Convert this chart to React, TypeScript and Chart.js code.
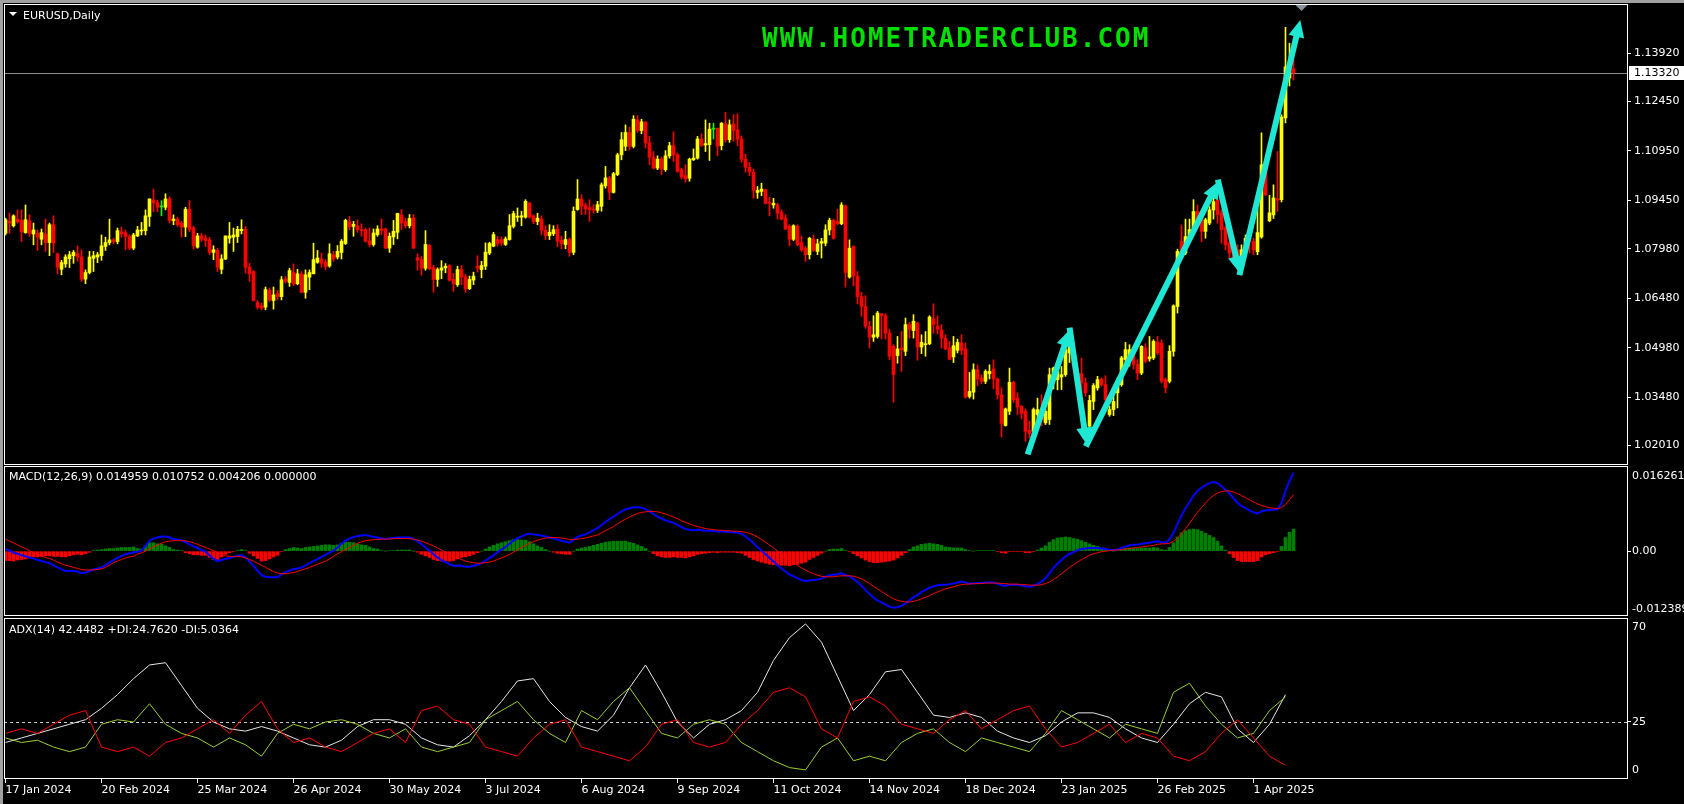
import React, { useEffect, useRef } from 'react';
import { Chart, registerables } from 'chart.js';

Chart.register(...registerables);

// ---------------- data ----------------
const dateTickLabels = ['17 Jan 2024', '20 Feb 2024', '25 Mar 2024', '26 Apr 2024', '30 May 2024', '3 Jul 2024', '6 Aug 2024', '9 Sep 2024', '11 Oct 2024', '14 Nov 2024', '18 Dec 2024', '23 Jan 2025', '26 Feb 2025', '1 Apr 2025'];
const dateTickBars = [0, 24, 48, 72, 96, 120, 144, 168, 192, 216, 240, 264, 288, 312];
const priceTicks = [1.0201, 1.0348, 1.0498, 1.0648, 1.0798, 1.0945, 1.1095, 1.1245, 1.1392];
const macdSideLabels = [{ at: 'top', value: 0.016261, text: '0.016261' }, { at: 'value', value: 0, text: '0.00' }, { at: 'bottom', value: -0.012389, text: '-0.012389' }];
const adxSideLabels = [{ at: 'top', value: 70.6, text: '70' }, { at: 'value', value: 25, text: '25' }, { at: 'bottom', value: 0, text: '0' }];
const adxLevel = 25;
const shiftBar = 324;

// [open, high, low, close]
const candles = [
[1.0845,1.0891,1.0840,1.0886],[1.0881,1.0906,1.0845,1.0876],[1.0868,1.0901,1.0864,1.0898],[1.0888,1.0916,1.0876,1.0880],[1.0884,1.0916,1.0820,1.0850],
[1.0847,1.0931,1.0845,1.0886],[1.0883,1.0901,1.0835,1.0845],[1.0843,1.0876,1.0810,1.0855],[1.0845,1.0855,1.0793,1.0833],[1.0827,1.0858,1.0810,1.0847],
[1.0843,1.0888,1.0790,1.0817],[1.0817,1.0876,1.0777,1.0871],[1.0871,1.0898,1.0787,1.0815],[1.0783,1.0785,1.0722,1.0742],[1.0736,1.0763,1.0719,1.0756],
[1.0752,1.0780,1.0742,1.0773],[1.0768,1.0790,1.0741,1.0780],[1.0777,1.0793,1.0754,1.0787],[1.0783,1.0807,1.0760,1.0773],[1.0773,1.0795,1.0699,1.0706],
[1.0706,1.0734,1.0692,1.0726],[1.0726,1.0790,1.0722,1.0773],[1.0769,1.0790,1.0729,1.0777],[1.0773,1.0787,1.0756,1.0780],[1.0777,1.0840,1.0763,1.0807],
[1.0805,1.0833,1.0793,1.0817],[1.0817,1.0888,1.0810,1.0825],[1.0825,1.0830,1.0813,1.0820],[1.0820,1.0861,1.0813,1.0853],[1.0850,1.0864,1.0833,1.0843],
[1.0847,1.0855,1.0795,1.0835],[1.0835,1.0840,1.0795,1.0800],[1.0800,1.0845,1.0795,1.0840],[1.0837,1.0866,1.0835,1.0855],[1.0852,1.0878,1.0840,1.0855],
[1.0853,1.0916,1.0840,1.0898],[1.0896,1.0950,1.0866,1.0949],[1.0946,1.0979,1.0911,1.0938],[1.0938,1.0946,1.0911,1.0924],[1.0925,1.0944,1.0898,1.0925],
[1.0924,1.0965,1.0916,1.0949],[1.0949,1.0956,1.0876,1.0884],[1.0884,1.0901,1.0871,1.0888],[1.0888,1.0894,1.0866,1.0871],[1.0876,1.0881,1.0833,1.0864],
[1.0864,1.0924,1.0835,1.0918],[1.0918,1.0944,1.0850,1.0857],[1.0861,1.0866,1.0797,1.0807],[1.0803,1.0845,1.0800,1.0837],[1.0837,1.0845,1.0820,1.0827],
[1.0830,1.0840,1.0805,1.0823],[1.0825,1.0833,1.0780,1.0787],[1.0787,1.0807,1.0765,1.0795],[1.0793,1.0800,1.0729,1.0742],[1.0736,1.0780,1.0722,1.0767],
[1.0767,1.0837,1.0765,1.0837],[1.0830,1.0878,1.0815,1.0837],[1.0833,1.0861,1.0790,1.0840],[1.0835,1.0866,1.0817,1.0857],[1.0853,1.0886,1.0843,1.0857],
[1.0857,1.0866,1.0724,1.0742],[1.0742,1.0754,1.0699,1.0722],[1.0729,1.0732,1.0639,1.0641],[1.0635,1.0641,1.0615,1.0621],[1.0625,1.0633,1.0613,1.0618],
[1.0621,1.0682,1.0613,1.0674],[1.0672,1.0679,1.0638,1.0643],[1.0641,1.0682,1.0615,1.0658],[1.0662,1.0672,1.0643,1.0653],[1.0653,1.0714,1.0643,1.0704],
[1.0706,1.0714,1.0694,1.0699],[1.0696,1.0739,1.0684,1.0732],[1.0726,1.0752,1.0686,1.0692],[1.0692,1.0736,1.0689,1.0722],[1.0722,1.0729,1.0664,1.0666],
[1.0666,1.0734,1.0648,1.0719],[1.0712,1.0734,1.0674,1.0726],[1.0722,1.0815,1.0722,1.0765],[1.0757,1.0793,1.0754,1.0770],[1.0767,1.0785,1.0742,1.0754],
[1.0757,1.0765,1.0734,1.0744],[1.0746,1.0813,1.0742,1.0783],[1.0780,1.0790,1.0760,1.0767],[1.0773,1.0808,1.0767,1.0790],[1.0787,1.0826,1.0767,1.0821],
[1.0814,1.0888,1.0811,1.0884],[1.0880,1.0896,1.0856,1.0864],[1.0866,1.0881,1.0836,1.0872],[1.0868,1.0886,1.0848,1.0856],[1.0856,1.0874,1.0836,1.0853],
[1.0856,1.0861,1.0818,1.0821],[1.0822,1.0861,1.0804,1.0811],[1.0811,1.0858,1.0806,1.0846],[1.0841,1.0868,1.0836,1.0858],[1.0858,1.0889,1.0841,1.0854],
[1.0858,1.0860,1.0799,1.0800],[1.0800,1.0846,1.0787,1.0836],[1.0834,1.0884,1.0811,1.0851],[1.0848,1.0906,1.0828,1.0905],[1.0901,1.0917,1.0856,1.0876],
[1.0880,1.0891,1.0861,1.0868],[1.0868,1.0902,1.0861,1.0890],[1.0892,1.0902,1.0799,1.0800],[1.0771,1.0783,1.0733,1.0763],[1.0765,1.0775,1.0718,1.0739],
[1.0739,1.0853,1.0733,1.0811],[1.0808,1.0811,1.0735,1.0737],[1.0741,1.0748,1.0666,1.0705],[1.0705,1.0740,1.0684,1.0735],[1.0733,1.0762,1.0707,1.0740],
[1.0740,1.0753,1.0725,1.0745],[1.0747,1.0750,1.0700,1.0703],[1.0705,1.0723,1.0669,1.0692],[1.0689,1.0745,1.0684,1.0735],[1.0735,1.0747,1.0689,1.0713],
[1.0713,1.0720,1.0666,1.0676],[1.0677,1.0715,1.0674,1.0705],[1.0703,1.0727,1.0689,1.0715],[1.0745,1.0777,1.0727,1.0739],[1.0735,1.0760,1.0710,1.0747],
[1.0745,1.0816,1.0735,1.0788],[1.0785,1.0818,1.0780,1.0814],[1.0806,1.0848,1.0804,1.0841],[1.0826,1.0836,1.0806,1.0814],[1.0826,1.0834,1.0808,1.0816],
[1.0811,1.0834,1.0808,1.0828],[1.0826,1.0902,1.0824,1.0868],[1.0866,1.0912,1.0861,1.0905],[1.0894,1.0922,1.0881,1.0896],[1.0894,1.0912,1.0868,1.0898],
[1.0894,1.0947,1.0891,1.0942],[1.0937,1.0939,1.0891,1.0894],[1.0898,1.0901,1.0874,1.0881],[1.0881,1.0906,1.0871,1.0891],[1.0888,1.0898,1.0841,1.0854],
[1.0854,1.0868,1.0826,1.0838],[1.0838,1.0871,1.0826,1.0848],[1.0844,1.0868,1.0838,1.0856],[1.0858,1.0871,1.0804,1.0821],[1.0824,1.0836,1.0798,1.0814],
[1.0811,1.0851,1.0798,1.0826],[1.0826,1.0831,1.0775,1.0787],[1.0787,1.0925,1.0780,1.0912],[1.0917,1.1008,1.0915,1.0949],[1.0949,1.0962,1.0902,1.0927],
[1.0929,1.0937,1.0902,1.0919],[1.0923,1.0947,1.0881,1.0917],[1.0917,1.0932,1.0906,1.0915],[1.0915,1.0942,1.0908,1.0932],[1.0927,1.0998,1.0912,1.0992],
[1.0989,1.1048,1.0982,1.1013],[1.1013,1.1018,1.0947,1.0969],[1.0969,1.1030,1.0967,1.1026],[1.1023,1.1088,1.1020,1.1083],[1.1083,1.1151,1.1068,1.1129],
[1.1109,1.1174,1.1096,1.1151],[1.1151,1.1167,1.1098,1.1109],[1.1109,1.1202,1.1104,1.1191],[1.1189,1.1202,1.1151,1.1157],[1.1157,1.1191,1.1147,1.1183],
[1.1183,1.1183,1.1104,1.1119],[1.1119,1.1139,1.1053,1.1076],[1.1076,1.1093,1.1040,1.1043],[1.1043,1.1080,1.1038,1.1070],[1.1070,1.1076,1.1023,1.1040],
[1.1038,1.1096,1.1033,1.1080],[1.1080,1.1121,1.1073,1.1111],[1.1111,1.1153,1.1063,1.1083],[1.1083,1.1088,1.1030,1.1033],[1.1038,1.1043,1.1010,1.1016],
[1.1020,1.1053,1.1000,1.1010],[1.1012,1.1073,1.1003,1.1070],[1.1068,1.1101,1.1066,1.1073],[1.1073,1.1139,1.1070,1.1131],[1.1131,1.1147,1.1109,1.1111],
[1.1113,1.1189,1.1093,1.1117],[1.1114,1.1179,1.1066,1.1161],[1.1161,1.1179,1.1131,1.1161],[1.1164,1.1164,1.1080,1.1109],[1.1111,1.1181,1.1098,1.1179],
[1.1177,1.1212,1.1121,1.1129],[1.1129,1.1189,1.1121,1.1174],[1.1177,1.1205,1.1124,1.1157],[1.1159,1.1208,1.1111,1.1131],[1.1131,1.1140,1.1060,1.1070],
[1.1070,1.1085,1.1030,1.1045],[1.1045,1.1060,1.1020,1.1032],[1.1030,1.1040,1.0951,1.0975],[1.0969,1.0987,1.0951,1.0975],[1.0972,1.0997,1.0959,1.0979],
[1.0977,1.0979,1.0934,1.0936],[1.0938,1.0954,1.0898,1.0936],[1.0931,1.0951,1.0921,1.0936],[1.0931,1.0936,1.0888,1.0906],[1.0908,1.0916,1.0886,1.0888],
[1.0891,1.0901,1.0856,1.0858],[1.0866,1.0871,1.0807,1.0827],[1.0827,1.0871,1.0823,1.0868],[1.0866,1.0871,1.0807,1.0810],[1.0817,1.0837,1.0790,1.0795],
[1.0800,1.0805,1.0760,1.0780],[1.0780,1.0833,1.0767,1.0830],[1.0827,1.0840,1.0790,1.0793],[1.0790,1.0827,1.0780,1.0813],[1.0815,1.0830,1.0770,1.0820],
[1.0815,1.0871,1.0807,1.0855],[1.0855,1.0891,1.0840,1.0884],[1.0884,1.0888,1.0827,1.0830],[1.0881,1.0918,1.0871,1.0874],[1.0874,1.0938,1.0871,1.0931],
[1.0928,1.0931,1.0682,1.0726],[1.0712,1.0825,1.0709,1.0800],[1.0805,1.0807,1.0686,1.0716],[1.0714,1.0729,1.0631,1.0653],[1.0653,1.0666,1.0593,1.0623],
[1.0623,1.0656,1.0557,1.0563],[1.0563,1.0578,1.0497,1.0530],[1.0530,1.0595,1.0517,1.0537],[1.0532,1.0608,1.0527,1.0603],[1.0601,1.0601,1.0524,1.0595],
[1.0595,1.0601,1.0524,1.0542],[1.0542,1.0554,1.0461,1.0472],[1.0502,1.0507,1.0332,1.0416],[1.0474,1.0532,1.0451,1.0494],[1.0497,1.0547,1.0426,1.0492],
[1.0487,1.0588,1.0474,1.0568],[1.0568,1.0575,1.0527,1.0554],[1.0550,1.0598,1.0527,1.0578],[1.0573,1.0575,1.0460,1.0500],[1.0500,1.0537,1.0480,1.0514],
[1.0507,1.0547,1.0472,1.0510],[1.0510,1.0595,1.0507,1.0591],[1.0585,1.0631,1.0542,1.0568],[1.0563,1.0595,1.0540,1.0554],[1.0552,1.0568,1.0497,1.0527],
[1.0527,1.0537,1.0492,1.0494],[1.0497,1.0517,1.0461,1.0463],[1.0470,1.0532,1.0453,1.0504],[1.0490,1.0524,1.0482,1.0514],[1.0512,1.0537,1.0477,1.0490],
[1.0494,1.0512,1.0345,1.0348],[1.0350,1.0423,1.0345,1.0365],[1.0363,1.0449,1.0342,1.0431],[1.0431,1.0446,1.0383,1.0403],[1.0406,1.0416,1.0389,1.0396],
[1.0396,1.0431,1.0389,1.0426],[1.0419,1.0446,1.0403,1.0426],[1.0433,1.0461,1.0373,1.0403],[1.0403,1.0406,1.0342,1.0355],[1.0355,1.0376,1.0227,1.0268],
[1.0262,1.0315,1.0260,1.0312],[1.0305,1.0436,1.0295,1.0393],[1.0393,1.0396,1.0332,1.0340],[1.0345,1.0361,1.0295,1.0318],[1.0320,1.0322,1.0282,1.0298],
[1.0305,1.0312,1.0214,1.0244],[1.0247,1.0275,1.0224,1.0237],[1.0244,1.0315,1.0239,1.0310],[1.0295,1.0345,1.0280,1.0310],[1.0310,1.0355,1.0260,1.0278],
[1.0270,1.0312,1.0265,1.0305],[1.0280,1.0436,1.0265,1.0416],[1.0396,1.0439,1.0373,1.0436],[1.0401,1.0441,1.0370,1.0426],[1.0409,1.0441,1.0371,1.0416],
[1.0416,1.0497,1.0411,1.0492],[1.0482,1.0533,1.0453,1.0500],[1.0492,1.0497,1.0433,1.0441],[1.0393,1.0436,1.0380,1.0421],[1.0419,1.0466,1.0350,1.0391],
[1.0391,1.0406,1.0350,1.0361],[1.0260,1.0353,1.0210,1.0338],[1.0335,1.0389,1.0310,1.0383],[1.0376,1.0411,1.0369,1.0401],[1.0403,1.0406,1.0381,1.0386],
[1.0386,1.0413,1.0330,1.0340],[1.0295,1.0320,1.0290,1.0310],[1.0310,1.0361,1.0292,1.0335],[1.0361,1.0406,1.0315,1.0386],[1.0386,1.0472,1.0381,1.0467],
[1.0462,1.0514,1.0452,1.0492],[1.0472,1.0507,1.0442,1.0492],[1.0482,1.0487,1.0433,1.0447],[1.0447,1.0462,1.0401,1.0421],[1.0421,1.0504,1.0416,1.0502],
[1.0497,1.0510,1.0452,1.0457],[1.0464,1.0532,1.0457,1.0470],[1.0467,1.0522,1.0462,1.0517],[1.0514,1.0532,1.0477,1.0482],[1.0512,1.0522,1.0391,1.0396],
[1.0401,1.0406,1.0361,1.0376],[1.0396,1.0504,1.0391,1.0487],[1.0487,1.0628,1.0472,1.0625],[1.0623,1.0797,1.0603,1.0790],[1.0820,1.0870,1.0780,1.0795],
[1.0785,1.0888,1.0780,1.0835],[1.0835,1.0888,1.0830,1.0856],[1.0861,1.0947,1.0851,1.0911],[1.0911,1.0931,1.0861,1.0876],[1.0896,1.0901,1.0820,1.0851],
[1.0851,1.0891,1.0830,1.0886],[1.0876,1.0926,1.0871,1.0916],[1.0916,1.0957,1.0888,1.0941],[1.0946,1.0952,1.0876,1.0901],[1.0906,1.0916,1.0815,1.0856],
[1.0861,1.0866,1.0795,1.0810],[1.0815,1.0835,1.0765,1.0785],[1.0795,1.0805,1.0750,1.0765],[1.0795,1.0810,1.0750,1.0765],[1.0745,1.0810,1.0735,1.0795],
[1.0795,1.0840,1.0785,1.0830],[1.0830,1.0845,1.0785,1.0820],[1.0820,1.0830,1.0780,1.0795],[1.0789,1.0920,1.0780,1.0847],[1.0834,1.1150,1.0830,1.1053],
[1.1046,1.1050,1.0959,1.0962],[1.0883,1.0960,1.0880,1.0907],[1.0901,1.0992,1.0890,1.0952],[1.0950,1.1093,1.0911,1.0945],[1.0947,1.1205,1.0940,1.1198],
[1.1195,1.1470,1.1180,1.1350],[1.1316,1.1422,1.1292,1.1350],[1.1344,1.1377,1.1310,1.1332]
];

const macdMain = [
.0005,.0001,-.0003,-.0005,-.0008,-.0010,-.0012,-.0014,-.0017,-.0019,
-.0021,-.0023,-.0027,-.0031,-.0035,-.0038,-.0038,-.0038,-.0039,-.0042,
-.0041,-.0038,-.0035,-.0033,-.0031,-.0027,-.0022,-.0017,-.0013,-.0009,
-.0006,-.0004,-.0002,-.0001,.0001,.0010,.0020,.0024,.0026,.0028,
.0028,.0026,.0023,.0022,.0021,.0017,.0013,.0009,.0006,.0002,
-.0001,-.0008,-.0015,-.0019,-.0017,-.0015,-.0013,-.0011,-.0009,-.0008,
-.0012,-.0020,-.0028,-.0037,-.0046,-.0049,-.0050,-.0050,-.0050,-.0044,
-.0040,-.0037,-.0034,-.0033,-.0031,-.0027,-.0023,-.0019,-.0015,-.0011,
-.0007,-.0003,.0001,.0007,.0014,.0020,.0024,.0027,.0029,.0030,
.0031,.0029,.0027,.0026,.0024,.0023,.0024,.0025,.0026,.0026,
.0026,.0026,.0023,.0019,.0013,.0007,.0001,-.0006,-.0012,-.0017,
-.0021,-.0025,-.0028,-.0028,-.0028,-.0030,-.0030,-.0028,-.0026,-.0023,
-.0018,-.0013,-.0008,-.0002,.0003,.0008,.0014,.0020,.0025,.0028,
.0032,.0033,.0032,.0031,.0030,.0028,.0026,.0024,.0022,.0020,
.0018,.0016,.0022,.0027,.0030,.0032,.0036,.0040,.0044,.0050,
.0056,.0061,.0066,.0071,.0076,.0080,.0082,.0084,.0084,.0083,
.0080,.0076,.0071,.0066,.0062,.0059,.0056,.0054,.0050,.0046,
.0042,.0041,.0040,.0041,.0040,.0039,.0039,.0039,.0037,.0038,
.0037,.0037,.0036,.0035,.0033,.0028,.0022,.0015,.0008,.0001,
-.0006,-.0013,-.0020,-.0027,-.0033,-.0039,-.0045,-.0048,-.0052,-.0055,
-.0057,-.0056,-.0055,-.0054,-.0052,-.0049,-.0046,-.0045,-.0044,-.0042,
-.0046,-.0048,-.0053,-.0059,-.0066,-.0074,-.0082,-.0089,-.0094,-.0098,
-.0102,-.0106,-.0108,-.0107,-.0104,-.0100,-.0094,-.0088,-.0084,-.0078,
-.0074,-.0070,-.0067,-.0065,-.0064,-.0064,-.0063,-.0062,-.0060,-.0058,
-.0060,-.0062,-.0062,-.0061,-.0061,-.0060,-.0060,-.0060,-.0062,-.0065,
-.0066,-.0064,-.0064,-.0064,-.0065,-.0067,-.0068,-.0066,-.0063,-.0058,
-.0052,-.0042,-.0032,-.0024,-.0017,-.0010,-.0005,-.0002,.0002,.0004,
.0005,.0006,.0006,.0006,.0005,.0004,.0002,.0002,.0003,.0006,
.0009,.0011,.0012,.0012,.0014,.0015,.0016,.0018,.0019,.0017,
.0016,.0022,.0035,.0052,.0068,.0082,.0094,.0106,.0115,.0121,
.0126,.0130,.0132,.0130,.0124,.0117,.0110,.0101,.0092,.0086,
.0082,.0078,.0074,.0072,.0076,.0078,.0078,.0079,.0080,.0092,
.0115,.0134,.0150
];

const macdSignal = [
.0023,.0019,.0016,.0012,.0008,.0005,.0001,-.0003,-.0006,-.0009,
-.0012,-.0014,-.0017,-.0021,-.0024,-.0027,-.0029,-.0031,-.0033,-.0035,
-.0036,-.0036,-.0036,-.0035,-.0034,-.0031,-.0027,-.0022,-.0019,-.0016,
-.0013,-.0011,-.0010,-.0006,-.0003,.0000,.0004,.0008,.0012,.0015,
.0018,.0019,.0020,.0020,.0020,.0020,.0018,.0016,.0013,.0010,
.0007,.0004,.0001,-.0003,-.0006,-.0009,-.0010,-.0010,-.0010,-.0011,
-.0013,-.0016,-.0019,-.0023,-.0027,-.0031,-.0035,-.0039,-.0042,-.0043,
-.0043,-.0042,-.0041,-.0039,-.0036,-.0034,-.0031,-.0028,-.0025,-.0022,
-.0019,-.0015,-.0010,-.0005,-.0001,.0003,.0007,.0011,.0015,.0018,
.0020,.0021,.0022,.0022,.0023,.0023,.0023,.0024,.0024,.0024,
.0024,.0024,.0023,.0021,.0019,.0016,.0013,.0010,.0006,.0002,
-.0002,-.0006,-.0010,-.0013,-.0016,-.0019,-.0021,-.0022,-.0023,-.0023,
-.0022,-.0021,-.0019,-.0016,-.0013,-.0010,-.0006,-.0002,.0003,.0007,
.0011,.0015,.0018,.0021,.0023,.0025,.0026,.0026,.0026,.0025,
.0024,.0022,.0022,.0023,.0024,.0025,.0027,.0029,.0031,.0035,
.0039,.0043,.0047,.0052,.0057,.0061,.0065,.0069,.0072,.0074,
.0075,.0076,.0076,.0075,.0073,.0071,.0068,.0065,.0062,.0058,
.0055,.0052,.0049,.0047,.0045,.0043,.0042,.0041,.0040,.0040,
.0039,.0039,.0038,.0038,.0037,.0036,.0034,.0031,.0027,.0022,
.0017,.0012,.0006,.0000,-.0006,-.0012,-.0017,-.0022,-.0027,-.0032,
-.0036,-.0040,-.0043,-.0046,-.0048,-.0049,-.0049,-.0049,-.0048,-.0047,
-.0047,-.0047,-.0048,-.0050,-.0053,-.0057,-.0062,-.0067,-.0072,-.0077,
-.0082,-.0087,-.0091,-.0094,-.0096,-.0097,-.0097,-.0096,-.0094,-.0091,
-.0088,-.0085,-.0081,-.0078,-.0075,-.0072,-.0070,-.0068,-.0066,-.0064,
-.0063,-.0063,-.0062,-.0062,-.0062,-.0061,-.0061,-.0061,-.0061,-.0062,
-.0062,-.0063,-.0063,-.0063,-.0064,-.0064,-.0065,-.0065,-.0065,-.0064,
-.0062,-.0059,-.0054,-.0049,-.0043,-.0037,-.0031,-.0026,-.0021,-.0016,
-.0012,-.0008,-.0005,-.0003,-.0001,.0000,.0001,.0002,.0002,.0003,
.0004,.0005,.0006,.0007,.0008,.0009,.0010,.0011,.0013,.0014,
.0014,.0015,.0019,.0025,.0033,.0043,.0053,.0064,.0074,.0083,
.0092,.0100,.0106,.0111,.0114,.0115,.0115,.0113,.0110,.0106,
.0102,.0098,.0094,.0090,.0087,.0085,.0083,.0082,.0081,.0083,
.0089,.0098,.0108
];

// ADX(14) readings, one value every adxStep bars
const adxStep = 4;
const adxLine = [16,18,20,22,24,26,31,37,44,50,51,41,31,25,22,21,23,21,18,15,14,17,23,26,26,24,18,15,14,19,26,34,43,44,34,27,23,21,28,40,50,38,25,18,24,26,30,38,52,62,68,60,45,30,37,47,48,38,28,27,29,27,21,18,16,19,25,29,29,27,22,18,16,24,33,38,36,22,16,24,37];
const plusDI = [18,16,17,14,12,14,24,26,25,33,24,20,18,14,18,15,10,20,24,22,25,26,24,20,18,22,14,12,14,16,26,30,34,26,20,16,30,26,34,40,30,20,18,24,26,24,16,12,8,5,4,14,18,8,10,8,16,20,22,16,12,18,16,14,12,20,30,26,22,18,24,22,20,38,42,32,24,18,20,30,36];
const minusDI = [20,22,20,24,28,30,14,12,14,10,16,18,22,26,20,28,34,22,16,18,14,12,16,20,22,16,30,32,26,24,14,12,10,18,24,26,14,12,10,8,14,24,26,16,14,16,24,30,38,40,36,22,18,34,36,32,24,22,20,26,30,22,26,30,32,22,14,16,20,24,16,20,18,10,8,12,20,26,18,10,6];

// hand-drawn zigzag arrow: [bar index, price]
const arrowPath = [[255.7, 1.0180], [266.1, 1.0553], [270.3, 1.0204], [303.2, 1.1002], [308.6, 1.0724], [323.7, 1.1492]];

// ---------------- styling ----------------
const FONT = "'DejaVu Sans', 'Noto Sans', sans-serif";
const X_MIN = -0.375;
const X_MAX = 405.625;
const AXIS_W = 56;
const BULL = '#ffff00';
const BEAR = '#ff0000';
const DOJI = '#00ff00';
const ARROW = '#1ee8d4';

const candleColor = (c: number[]) => (c[3] > c[0] ? BULL : c[3] < c[0] ? BEAR : DOJI);

const framePlugin = {
  id: 'frame',
  afterDraw(chart: any) {
    const { ctx, chartArea: a } = chart;
    ctx.save();
    ctx.strokeStyle = '#ffffff';
    ctx.lineWidth = 1;
    ctx.strokeRect(Math.round(a.left) + 0.5, Math.round(a.top) + 0.5, Math.round(a.right - a.left) - 1, Math.round(a.bottom - a.top) - 1);
    ctx.restore();
  },
};

const sideLabelPlugin = (items: any[], topOff: number, botOff: number) => ({
  id: 'sideLabels',
  afterDraw(chart: any) {
    const { ctx, chartArea: a } = chart;
    const s = chart.scales.y;
    ctx.save();
    ctx.font = `11px ${FONT}`;
    ctx.fillStyle = '#ffffff';
    ctx.textBaseline = 'middle';
    ctx.textAlign = 'left';
    items.forEach((it) => {
      const y = it.at === 'top' ? a.top + topOff : it.at === 'bottom' ? a.bottom - botOff : s.getPixelForValue(it.value);
      ctx.fillText(it.text, a.right + 4, y);
    });
    ctx.restore();
  },
});

const pricePlugin = {
  id: 'priceLine',
  beforeDatasetsDraw(chart: any) {
    const { ctx, chartArea: a } = chart;
    const last = candles[candles.length - 1][3];
    const y = Math.round(chart.scales.y.getPixelForValue(last)) + 0.5;
    ctx.save();
    ctx.strokeStyle = '#8c8c8c';
    ctx.lineWidth = 1;
    ctx.beginPath();
    ctx.moveTo(a.left, y);
    ctx.lineTo(a.right, y);
    ctx.stroke();
    ctx.restore();
  },
  afterDraw(chart: any) {
    const { ctx, chartArea: a } = chart;
    const last = candles[candles.length - 1][3];
    const y = Math.round(chart.scales.y.getPixelForValue(last));
    ctx.save();
    ctx.fillStyle = '#ffffff';
    ctx.fillRect(a.right + 1, y - 7, AXIS_W, 14);
    ctx.fillStyle = '#000000';
    ctx.font = `11px ${FONT}`;
    ctx.textBaseline = 'middle';
    ctx.fillText(last.toFixed(5), a.right + 6, y + 0.5);
    // chart-shift marker
    const sx = chart.scales.x.getPixelForValue(shiftBar);
    ctx.fillStyle = '#8a949e';
    ctx.beginPath();
    ctx.moveTo(sx - 6, a.top + 1);
    ctx.lineTo(sx + 6, a.top + 1);
    ctx.lineTo(sx, a.top + 7);
    ctx.closePath();
    ctx.fill();
    ctx.restore();
  },
};

const arrowPlugin = {
  id: 'zigzagArrow',
  afterDatasetsDraw(chart: any) {
    const { ctx, chartArea: a } = chart;
    const xs = chart.scales.x;
    const ys = chart.scales.y;
    const pts = arrowPath.map(([b, p]) => [xs.getPixelForValue(b), ys.getPixelForValue(p)]);
    ctx.save();
    ctx.beginPath();
    ctx.rect(a.left, a.top, a.right - a.left, a.bottom - a.top);
    ctx.clip();
    ctx.strokeStyle = ARROW;
    ctx.fillStyle = ARROW;
    ctx.lineWidth = 6;
    ctx.lineCap = 'butt';
    const head = 17;
    const hw = 8;
    for (let k = 0; k < pts.length - 1; k++) {
      const [x0, y0] = pts[k];
      const [x1, y1] = pts[k + 1];
      const L = Math.hypot(x1 - x0, y1 - y0);
      const ux = (x1 - x0) / L;
      const uy = (y1 - y0) / L;
      const bx = x1 - ux * head;
      const by = y1 - uy * head;
      ctx.beginPath();
      ctx.moveTo(x0 - ux * 2, y0 - uy * 2);
      ctx.lineTo(bx + ux * 2, by + uy * 2);
      ctx.stroke();
      ctx.beginPath();
      ctx.moveTo(x1, y1);
      ctx.lineTo(bx - uy * hw, by + ux * hw);
      ctx.lineTo(bx + uy * hw, by - ux * hw);
      ctx.closePath();
      ctx.fill();
    }
    ctx.restore();
  },
};

const levelPlugin = {
  id: 'level',
  beforeDatasetsDraw(chart: any) {
    const { ctx, chartArea: a } = chart;
    const y = Math.round(chart.scales.y.getPixelForValue(adxLevel)) + 0.5;
    ctx.save();
    ctx.strokeStyle = '#c8c8c8';
    ctx.lineWidth = 1;
    ctx.setLineDash([3, 3]);
    ctx.beginPath();
    ctx.moveTo(a.left, y);
    ctx.lineTo(a.right, y);
    ctx.stroke();
    ctx.restore();
  },
};

const hiddenX = { type: 'linear', min: X_MIN, max: X_MAX, offset: false, display: false };

const baseOptions = (padding: any) => ({
  responsive: false,
  maintainAspectRatio: false,
  animation: false,
  devicePixelRatio: 1,
  events: [],
  layout: { padding },
  plugins: { legend: { display: false }, tooltip: { enabled: false } },
});

const rightAxis = {
  type: 'linear',
  position: 'right',
  bounds: 'data',
  border: { display: false },
  grid: { drawOnChartArea: false, drawTicks: true, tickLength: 3, color: '#ffffff' },
  afterFit: (s: any) => {
    s.width = AXIS_W;
    s.paddingTop = 0;
    s.paddingBottom = 0;
  },
};

function mainConfig(): any {
  return {
    type: 'bar',
    data: {
      datasets: [
        {
          label: 'body',
          data: candles.map((c, i) => ({ x: i, y: [Math.min(c[0], c[3]), Math.max(c[0], c[3])] })),
          backgroundColor: candles.map(candleColor),
          barThickness: 3,
          maxBarThickness: 3,
          minBarLength: 1,
          grouped: false,
          borderWidth: 0,
        },
        {
          label: 'wick',
          data: candles.map((c, i) => ({ x: i, y: [c[2], c[1]] })),
          backgroundColor: candles.map(candleColor),
          barThickness: 1,
          maxBarThickness: 1,
          grouped: false,
          borderWidth: 0,
        },
      ],
    },
    options: {
      ...baseOptions({ left: 4, top: 4, bottom: 1, right: 0 }),
      scales: {
        x: hiddenX,
        y: {
          ...rightAxis,
          min: 1.0142,
          max: 1.15407,
          afterBuildTicks: (s: any) => {
            s.ticks = priceTicks.map((v) => ({ value: v }));
          },
          ticks: { color: '#ffffff', autoSkip: false, padding: 3, font: { family: FONT, size: 11 }, callback: (v: any) => Number(v).toFixed(5) },
        },
      },
    },
    plugins: [pricePlugin, arrowPlugin, framePlugin],
  };
}

function macdConfig(): any {
  const hist = macdMain.map((m, i) => m - macdSignal[i]);
  return {
    type: 'bar',
    data: {
      datasets: [
        { type: 'line', label: 'signal', data: macdSignal.map((v, i) => ({ x: i, y: v })), borderColor: '#ff0000', borderWidth: 1, pointRadius: 0, tension: 0 },
        { type: 'line', label: 'macd', data: macdMain.map((v, i) => ({ x: i, y: v })), borderColor: '#0000ff', borderWidth: 2, pointRadius: 0, tension: 0 },
        {
          label: 'hist',
          data: hist.map((v, i) => ({ x: i, y: v })),
          backgroundColor: hist.map((v) => (v >= 0 ? '#008000' : '#ff0000')),
          barThickness: 3,
          maxBarThickness: 3,
          grouped: false,
          borderWidth: 0,
        },
      ],
    },
    options: {
      ...baseOptions({ left: 4, top: 1, bottom: 1, right: 0 }),
      scales: {
        x: hiddenX,
        y: {
          ...rightAxis,
          min: -0.012389,
          max: 0.016261,
          afterBuildTicks: (s: any) => {
            s.ticks = [{ value: 0 }];
          },
          ticks: { display: false },
        },
      },
    },
    plugins: [framePlugin, sideLabelPlugin(macdSideLabels, 10, 7)],
  };
}

function adxConfig(): any {
  const line = (arr: number[], color: string) => ({
    type: 'line',
    data: arr.map((v, k) => ({ x: k * adxStep, y: v })),
    borderColor: color,
    borderWidth: 1,
    pointRadius: 0,
    tension: 0,
  });
  return {
    type: 'line',
    data: {
      datasets: [
        { label: '-DI', ...line(minusDI, '#ff0000') },
        { label: '+DI', ...line(plusDI, '#9acd32') },
        { label: 'ADX', ...line(adxLine, '#e6e6e6') },
      ],
    },
    options: {
      ...baseOptions({ left: 4, top: 1, bottom: 0, right: 0 }),
      scales: {
        x: {
          type: 'linear',
          min: X_MIN,
          max: X_MAX,
          offset: false,
          border: { display: false },
          grid: { drawOnChartArea: false, drawTicks: true, tickLength: 4, color: '#ffffff' },
          afterBuildTicks: (s: any) => {
            s.ticks = dateTickBars.map((v) => ({ value: v }));
          },
          afterFit: (s: any) => {
            s.height = 25;
            s.paddingLeft = 0;
            s.paddingRight = 0;
          },
          ticks: {
            align: 'start',
            autoSkip: false,
            maxRotation: 0,
            minRotation: 0,
            padding: 1,
            color: '#ffffff',
            font: { family: FONT, size: 11 },
            callback: (_v: any, i: number) => dateTickLabels[i],
          },
        },
        y: {
          ...rightAxis,
          min: 0,
          max: 70.6,
          afterBuildTicks: (s: any) => {
            s.ticks = [{ value: adxLevel }];
          },
          ticks: { display: false },
        },
      },
    },
    plugins: [levelPlugin, framePlugin, sideLabelPlugin(adxSideLabels, 9.5, 9)],
  };
}

const labelStyle: React.CSSProperties = {
  position: 'absolute',
  font: `11px ${FONT}`,
  lineHeight: '13px',
  color: '#ffffff',
  whiteSpace: 'nowrap',
};

export default function App() {
  const mainRef = useRef<HTMLCanvasElement>(null);
  const macdRef = useRef<HTMLCanvasElement>(null);
  const adxRef = useRef<HTMLCanvasElement>(null);

  useEffect(() => {
    document.body.style.margin = '0';
    document.body.style.background = '#000';
    const charts = [
      new Chart(mainRef.current as HTMLCanvasElement, mainConfig()),
      new Chart(macdRef.current as HTMLCanvasElement, macdConfig()),
      new Chart(adxRef.current as HTMLCanvasElement, adxConfig()),
    ];
    return () => charts.forEach((c) => c.destroy());
  }, []);

  return (
    <div style={{ position: 'relative', width: 1684, height: 804, background: '#000', overflow: 'hidden' }}>
      <style>{'body{margin:0;background:#000}'}</style>
      <canvas ref={mainRef} width={1684} height={466} style={{ position: 'absolute', left: 0, top: 0, width: 1684, height: 466 }} />
      <canvas ref={macdRef} width={1684} height={152} style={{ position: 'absolute', left: 0, top: 465, width: 1684, height: 152 }} />
      <canvas ref={adxRef} width={1684} height={187} style={{ position: 'absolute', left: 0, top: 617, width: 1684, height: 187 }} />
      <div style={{ position: 'absolute', left: 0, top: 0, width: 1684, height: 3, background: '#a0a0a0' }} />
      <div style={{ position: 'absolute', left: 0, top: 0, width: 3, height: 804, background: '#a0a0a0' }} />
      <div style={{ position: 'absolute', left: 9, top: 12, width: 0, height: 0, borderLeft: '4px solid transparent', borderRight: '4px solid transparent', borderTop: '4px solid #ffffff' }} />
      <div style={{ ...labelStyle, left: 23, top: 9 }}>EURUSD,Daily</div>
      <div style={{ ...labelStyle, left: 9, top: 470 }}>MACD(12,26,9) 0.014959 0.010752 0.004206 0.000000</div>
      <div style={{ ...labelStyle, left: 9, top: 623 }}>ADX(14) 42.4482 +DI:24.7620 -DI:5.0364</div>
      <div style={{ position: 'absolute', left: 762, top: 25, font: "bold 26px 'DejaVu Sans Mono', monospace", letterSpacing: '2px', lineHeight: '26px', color: '#00e000', whiteSpace: 'nowrap' }}>WWW.HOMETRADERCLUB.COM</div>
    </div>
  );
}
